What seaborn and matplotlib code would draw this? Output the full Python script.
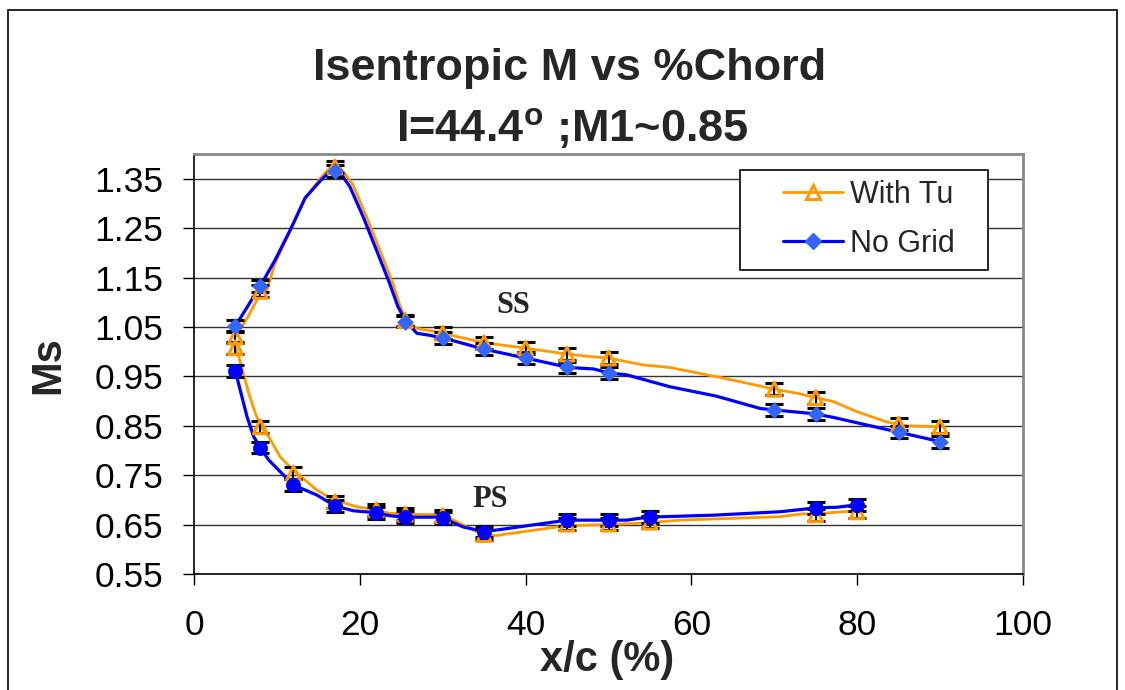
import matplotlib
matplotlib.use("Agg")
import matplotlib.pyplot as plt
import seaborn as sns
import pandas as pd
from matplotlib.lines import Line2D
from matplotlib.patches import Rectangle

# ---------------- data ----------------
# Suction side (SS) measured points
ss_x = [5, 8, 17, 25.5, 30, 35, 40, 45, 50, 70, 75, 85, 90]
ss_nogrid_y = [1.052, 1.133, 1.366, 1.061, 1.028, 1.005, 0.987, 0.968, 0.957, 0.882, 0.874, 0.837, 0.818]
ss_withtu_y = [1.030, 1.122, 1.374, 1.063, 1.037, 1.018, 1.007, 0.995, 0.987, 0.924, 0.907, 0.853, 0.848]

# Pressure side (PS) measured points
ps_x = [5, 8, 12, 17, 22, 25.5, 30, 35, 45, 50, 55, 75, 80]
ps_nogrid_y = [0.960, 0.806, 0.730, 0.688, 0.674, 0.665, 0.663, 0.636, 0.659, 0.659, 0.665, 0.684, 0.690]
ps_withtu_y = [1.008, 0.848, 0.754, 0.696, 0.680, 0.671, 0.668, 0.630, 0.651, 0.651, 0.655, 0.670, 0.676]

err = 0.012

# Smoothed curves (as drawn in the picture)
ss_nogrid_line_x = [5, 8, 9.8, 11.6, 13.4, 15.2, 16.4, 17.2, 18.8, 20.4, 22, 23.6, 24.6, 25.6,
                    26.9, 28.1, 30, 35, 40, 45.2, 48.2, 50, 52.2, 57.4, 63, 68.3, 70, 71.9, 75, 77.1, 85, 90]
ss_nogrid_line_y = [1.052, 1.133, 1.186, 1.246, 1.311, 1.345, 1.365, 1.372, 1.334, 1.273, 1.206, 1.138,
                    1.091, 1.060, 1.037, 1.034, 1.028, 1.005, 0.987, 0.968, 0.965, 0.957, 0.953, 0.929,
                    0.910, 0.885, 0.882, 0.879, 0.874, 0.867, 0.837, 0.818]

ss_withtu_line_x = [5, 6.5, 8, 8.8, 9.8, 11.6, 13.4, 15.2, 16.4, 17.3, 19.2, 20.8, 22.4, 24, 24.8, 25.6,
                    26.9, 29.3, 30, 35, 40, 45, 47.2, 50, 54.2, 57.4, 63.4, 65.9, 70, 72.7, 75, 77.1,
                    79.9, 83.5, 86, 90]
ss_withtu_line_y = [1.030, 1.070, 1.118, 1.125, 1.180, 1.244, 1.310, 1.350, 1.372, 1.380, 1.337, 1.273,
                    1.206, 1.138, 1.095, 1.063, 1.047, 1.040, 1.037, 1.018, 1.007, 0.995, 0.991, 0.987,
                    0.973, 0.968, 0.948, 0.939, 0.924, 0.916, 0.907, 0.899, 0.879, 0.858, 0.850, 0.848]

ps_nogrid_line_x = [5, 6.4, 7.2, 8, 9, 10.4, 12, 14.8, 17, 19.2, 22, 23.6, 25.4, 29.7, 30, 32.5, 35,
                    36.5, 45, 50, 52.2, 54.7, 58.6, 62.6, 70.7, 73.5, 75, 77.5, 80]
ps_nogrid_line_y = [0.960, 0.868, 0.828, 0.806, 0.781, 0.757, 0.730, 0.710, 0.688, 0.678, 0.674, 0.668,
                    0.665, 0.665, 0.663, 0.645, 0.636, 0.639, 0.659, 0.659, 0.659, 0.665, 0.667, 0.669,
                    0.676, 0.681, 0.684, 0.685, 0.690]

ps_withtu_line_x = [5, 5.4, 6.6, 7.4, 8, 9, 10.4, 12, 14.8, 16.8, 19.6, 22, 23.6, 25.5, 29.7, 30, 35,
                    36.5, 45, 50, 54.2, 58.6, 70.7, 73.5, 75, 76.7, 80]
ps_withtu_line_y = [1.008, 0.990, 0.916, 0.875, 0.850, 0.828, 0.787, 0.760, 0.720, 0.701, 0.686, 0.680,
                    0.673, 0.671, 0.670, 0.670, 0.628, 0.628, 0.648, 0.650, 0.653, 0.659, 0.666, 0.672,
                    0.670, 0.674, 0.678]

y_ticks = [0.55, 0.65, 0.75, 0.85, 0.95, 1.05, 1.15, 1.25, 1.35]
x_ticks = [0, 20, 40, 60, 80, 100]
series_names = ["With Tu", "No Grid"]

# ---------------- style ----------------
ORANGE = "#FF9900"
BLUE_LINE = "#0000FF"
BLUE_DIAMOND = "#3366FF"
BLUE_CIRCLE = "#0000FF"

sns.set_style("white")
plt.rcParams["font.family"] = ["Liberation Sans", "DejaVu Sans"]
plt.rcParams["mathtext.fontset"] = "custom"
plt.rcParams["mathtext.rm"] = "Liberation Sans"
plt.rcParams["mathtext.bf"] = "Liberation Sans:bold"

W, H = 1125, 690
fig = plt.figure(figsize=(W / 100, H / 100), dpi=100)
fig.patch.set_facecolor("white")
ax = fig.add_axes([194 / W, 1 - 574 / H, (1023 - 194) / W, (574 - 154) / H])

ORANGE_LW = 2.0
BLUE_LW = 2.3

# lines
def line(xs, ys, color, lw, z):
    df = pd.DataFrame({"x": xs, "y": ys})
    sns.lineplot(data=df, x="x", y="y", ax=ax, color=color, lw=lw, sort=False,
                 estimator=None, zorder=z, legend=False)

line(ss_withtu_line_x, ss_withtu_line_y, ORANGE, ORANGE_LW, 2)
line(ps_withtu_line_x, ps_withtu_line_y, ORANGE, ORANGE_LW, 2)
line(ss_nogrid_line_x, ss_nogrid_line_y, BLUE_LINE, BLUE_LW, 2.5)
line(ps_nogrid_line_x, ps_nogrid_line_y, BLUE_LINE, BLUE_LW, 2.5)

# error bars
for xs, ys in [(ss_x, ss_withtu_y), (ps_x, ps_withtu_y), (ss_x, ss_nogrid_y), (ps_x, ps_nogrid_y)]:
    ax.errorbar(xs, ys, yerr=err, fmt="none", ecolor="black", elinewidth=1.5,
                capsize=6.5, capthick=2.2, zorder=3)

# markers
sns.scatterplot(x=ss_x, y=ss_withtu_y, ax=ax, marker="^", s=100, facecolor="none",
                edgecolor=ORANGE, linewidth=2.2, zorder=4)
sns.scatterplot(x=ps_x, y=ps_withtu_y, ax=ax, marker="^", s=100, facecolor="none",
                edgecolor=ORANGE, linewidth=2.2, zorder=4)
sns.scatterplot(x=ss_x, y=ss_nogrid_y, ax=ax, marker="D", s=64, color=BLUE_DIAMOND,
                edgecolor=BLUE_DIAMOND, linewidth=0.5, zorder=5)
sns.scatterplot(x=ps_x, y=ps_nogrid_y, ax=ax, marker="o", s=105, color=BLUE_CIRCLE,
                edgecolor=BLUE_CIRCLE, linewidth=0.5, zorder=5)

# annotations
ax.text(38.5, 1.093, "SS", family=["Liberation Serif"], fontweight="bold", fontsize=22,
        ha="center", va="center", zorder=6)
ax.text(35.7, 0.700, "PS", family=["Liberation Serif"], fontweight="bold", fontsize=22,
        ha="center", va="center", zorder=6)

# axes
ax.set_xlim(0, 100)
ax.set_ylim(0.55, 1.40)
ax.set_xticks(x_ticks)
ax.set_yticks(y_ticks)
ax.set_xticklabels([str(t) for t in x_ticks])
ax.set_yticklabels([f"{t:.2f}" for t in y_ticks])
ax.tick_params(axis="both", direction="out", length=8, width=1, color="black",
               labelsize=25.5, labelcolor="black")
ax.tick_params(axis="y", pad=14, left=True)
ax.tick_params(axis="x", pad=17, bottom=True)
ax.set_xlabel("")
ax.set_ylabel("")
ax.yaxis.grid(True, color="#333333", lw=1.0)
ax.xaxis.grid(False)
ax.set_axisbelow(True)
for s in ["left", "bottom"]:
    ax.spines[s].set_color("black")
    ax.spines[s].set_linewidth(1.2)
for s in ["top", "right"]:
    ax.spines[s].set_color("#888888")
    ax.spines[s].set_linewidth(2.0)

# legend (frame drawn separately for exact placement)
ax.add_patch(Rectangle((740 / W, 1 - 270 / H), (988 - 740) / W, (270 - 170) / H,
                       transform=fig.transFigure, facecolor="white", edgecolor="black",
                       lw=1.2, zorder=9, clip_on=False))
handles = [
    Line2D([0], [0], color=ORANGE, lw=ORANGE_LW, marker="^", markersize=10,
           markerfacecolor="none", markeredgecolor=ORANGE, markeredgewidth=2.2),
    Line2D([0], [0], color=BLUE_LINE, lw=BLUE_LW, marker="D", markersize=8,
           markerfacecolor=BLUE_DIAMOND, markeredgecolor=BLUE_DIAMOND),
]
leg = ax.legend(handles, series_names, loc="upper left",
                bbox_to_anchor=(783 / W, 1 - 180 / H), bbox_transform=fig.transFigure,
                fontsize=22, frameon=False, handlelength=1.95, handletextpad=0.25,
                borderpad=0, labelspacing=0.62, borderaxespad=0)
leg.set_zorder(10)

# titles / labels
fig.text(570 / W, 1 - 80 / H, "Isentropic M vs %Chord", ha="center", va="baseline",
         fontsize=32.5, fontweight="bold")
fig.text(572 / W, 1 - 142 / H, r"I=44.4$^{\mathbf{o}}$ ;M1~0.85", ha="center", va="baseline",
         fontsize=32.5, fontweight="bold")
fig.text(607 / W, 1 - 671 / H, "x/c (%)", ha="center", va="baseline",
         fontsize=30, fontweight="bold")
fig.text(48 / W, 1 - 365 / H, "Ms", ha="center", va="center", rotation=90,
         fontsize=30, fontweight="bold")

# outer chart border
fig.add_artist(Rectangle((8 / W, -5 / H), (1117 - 8) / W, (690 - 10 + 5) / H,
                         transform=fig.transFigure, fill=False, edgecolor="black", lw=1.2))

fig.savefig("out.png", dpi=100)
